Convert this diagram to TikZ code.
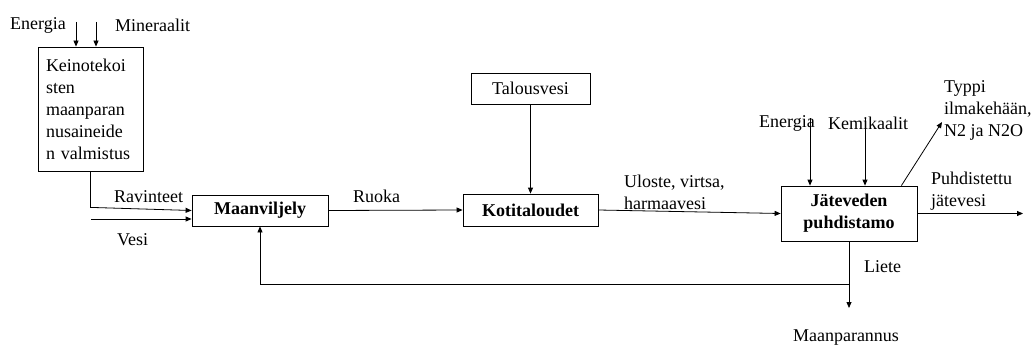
\documentclass[tikz,border=0pt]{standalone}
\usepackage{fontspec}
\setmainfont{Liberation Serif}
\usetikzlibrary{arrows.meta,positioning}
\tikzset{
    loopbox/.style={draw, line width=0.8pt, align=center, inner sep=0pt},
    looparrow/.style={-{Triangle[length=6pt,width=5pt]}, line width=0.8pt},
    looplabel/.style={inner sep=0pt, align=left}
}
\begin{document}
\begin{tikzpicture}[x=1pt, y=-1pt, font=\fontsize{18}{22}\selectfont]
        \useasboundingbox (0,0) rectangle (1031,345);

        \node[loopbox, minimum width=105pt, minimum height=124pt,
            text width=89pt, align=left] (fertilizer) at (90.5,109)
            {Keinotekoi\\sten\\maanparan\\nusaineide\\n valmistus};
        \node[loopbox, minimum width=136pt, minimum height=31pt] (farming)
            at (260,210.5) {\textbf{Maanviljely}};
        \node[loopbox, minimum width=135pt, minimum height=32pt] (households)
            at (530.5,210) {\textbf{Kotitaloudet}};
        \node[loopbox, minimum width=119pt, minimum height=31pt] (tapwater)
            at (530.5,88.5) {Talousvesi};
        \node[loopbox, minimum width=136pt, minimum height=55pt] (treatment)
            at (849,213.5) {\textbf{Jäteveden}\\\textbf{puhdistamo}};

        \node[looplabel, anchor=west] (energyA) at (10,25) {Energia};
        \node[looplabel, anchor=west] (minerals) at (115,25) {Mineraalit};
        \node[looplabel, anchor=west] (nutrients) at (114,197) {Ravinteet};
        \node[looplabel, anchor=west] (water) at (117,240) {Vesi};
        \node[looplabel, anchor=west] (food) at (353,196) {Ruoka};
        \node[looplabel, anchor=west] (sewage) at (624,192)
            {Uloste, virtsa,\\harmaavesi};
        \node[looplabel, anchor=west] (energyB) at (759,123) {Energia};
        \node[looplabel, anchor=west] (chemicals) at (828,123) {Kemikaalit};
        \node[looplabel, anchor=west] (nitrogen) at (944,110)
            {Typpi\\ilmakehään,\\N2 ja N2O};
        \node[looplabel, anchor=west] (effluent) at (931,191)
            {Puhdistettu\\jätevesi};
        \node[looplabel, anchor=west] (sludge) at (864,267) {Liete};
        \node[looplabel] (soil) at (846,338) {Maanparannus};

        \coordinate (energyAin) at (76,22);
        \coordinate (mineralsin) at (96,22);
        \coordinate (waterin) at (91,219);
        \coordinate (energyBin) at (810,118);
        \coordinate (chemicalsin) at (865,118);
        \coordinate (nitrogenout) at (942,122);
        \coordinate (effluentout) at (1023,213.5);
        \coordinate (soilout) at (849,308);
        \coordinate (branch) at (849,284);

        \draw[looparrow] (energyAin) -- (energyAin |- fertilizer.north);
        \draw[looparrow] (mineralsin) -- (mineralsin |- fertilizer.north);
        \draw[looparrow] (fertilizer.south) -- ++(0,36) -- (farming.west);
        \draw[looparrow] (waterin) -- (waterin -| farming.west);
        \draw[looparrow] (farming.east) -- (households.west);
        \draw[looparrow] (tapwater.south) -- (households.north);
        \draw[looparrow] (households.east) -- (treatment.west);
        \draw[looparrow] (energyBin) -- (energyBin |- treatment.north);
        \draw[looparrow] (chemicalsin) -- (chemicalsin |- treatment.north);
        \draw[looparrow] ([xshift=-16pt]treatment.north east) -- (nitrogenout);
        \draw[looparrow] (treatment.east) -- (effluentout);
        \draw[looparrow] (treatment.south) -- (soilout);
        \draw[looparrow] (branch) -| (farming.south);
    \end{tikzpicture}
\end{document}
